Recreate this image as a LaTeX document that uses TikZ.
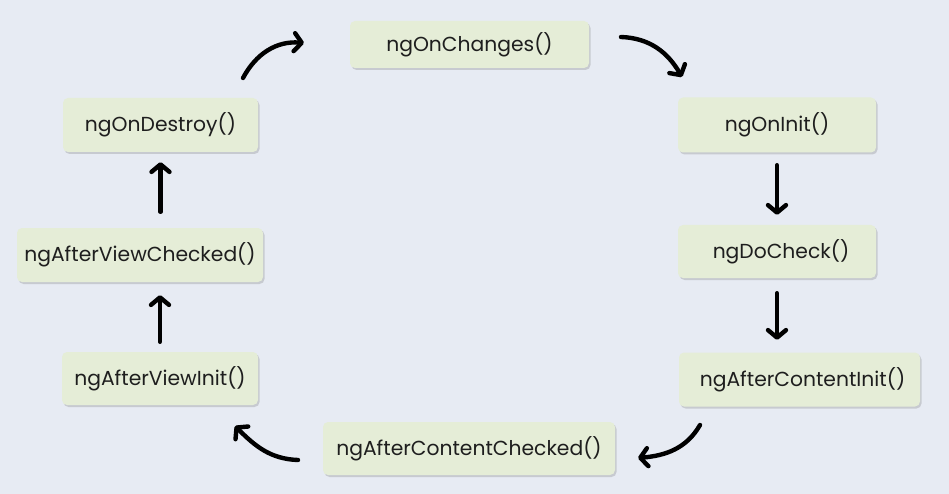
\documentclass[tikz,border=0pt]{standalone}
\usepackage{fontspec}
\setmainfont{Poppins}
\usetikzlibrary{arrows.meta,shadows}
\definecolor{bgc}{HTML}{E7EBF3}
\definecolor{boxc}{HTML}{E5EDD7}
\definecolor{txtc}{HTML}{1E1E1E}
\begin{document}
\begin{tikzpicture}[x=1pt,y=-1pt,
  hook/.style={rectangle,rounded corners=5pt,fill=boxc,text=txtc,
    font=\fontsize{20.3}{24}\selectfont,inner sep=0pt,
    drop shadow={shadow xshift=1.5pt,shadow yshift=-2pt,opacity=0.3,fill=gray}},
  flow/.style={line width=4.4pt,line cap=round,black,
    -{Straight Barb[length=7.5pt,width=18pt,line cap=round,line join=round]}}]
\fill[bgc] (0,0) rectangle (949,494);
\useasboundingbox (0,0) rectangle (949,494);

\node[hook,minimum width=239pt,minimum height=47pt] (chg) at (469.5,44.5) {ngOnChanges()};
\node[hook,minimum width=198pt,minimum height=55pt] (init) at (777,125) {ngOnInit()};
\node[hook,minimum width=198pt,minimum height=53pt] (dock) at (777,251.5) {\hspace*{8pt}ngDoCheck()};
\node[hook,minimum width=241pt,minimum height=54pt] (aci) at (799.5,379.5) {\hspace*{6pt}ngAfterContentInit()};
\node[hook,minimum width=292pt,minimum height=53pt] (acc) at (469,448.5) {ngAfterContentChecked()};
\node[hook,minimum width=196pt,minimum height=53pt] (avi) at (160,378.5) {ngAfterViewInit()};
\node[hook,minimum width=246pt,minimum height=54pt] (avc) at (140,255) {ngAfterViewChecked()};
\node[hook,minimum width=195pt,minimum height=54pt] (dst) at (160.5,125) {ngOnDestroy()};

\coordinate (a1s) at (243,78);  \coordinate (a1e) at (304,43);
\coordinate (a2s) at (621,37);  \coordinate (a2e) at (682,77);
\coordinate (a5s) at (700,425); \coordinate (a5e) at (638,458);
\coordinate (a6s) at (298,460); \coordinate (a6e) at (235,426);

\draw[flow] (a1s) to[out=62,in=175] (a1e);
\draw[flow] (a2s) to[out=-2,in=120] (a2e);
\draw[flow,shorten <=12.5pt,shorten >=10pt] (init.south) -- (dock.north);
\draw[flow,shorten <=15pt,shorten >=12.5pt] (dock.south) -- (dock.south |- aci.north);
\draw[flow] (a5s) to[out=-120,in=5] (a5e);
\draw[flow] (a6s) to[out=178,in=-45] (a6e);
\draw[flow,shorten <=10pt,shorten >=13pt] (avi.north) -- (avi.north |- avc.south);
\draw[flow,shorten <=16pt,shorten >=10pt] (dst.south |- avc.north) -- (dst.south);
\end{tikzpicture}
\end{document}
